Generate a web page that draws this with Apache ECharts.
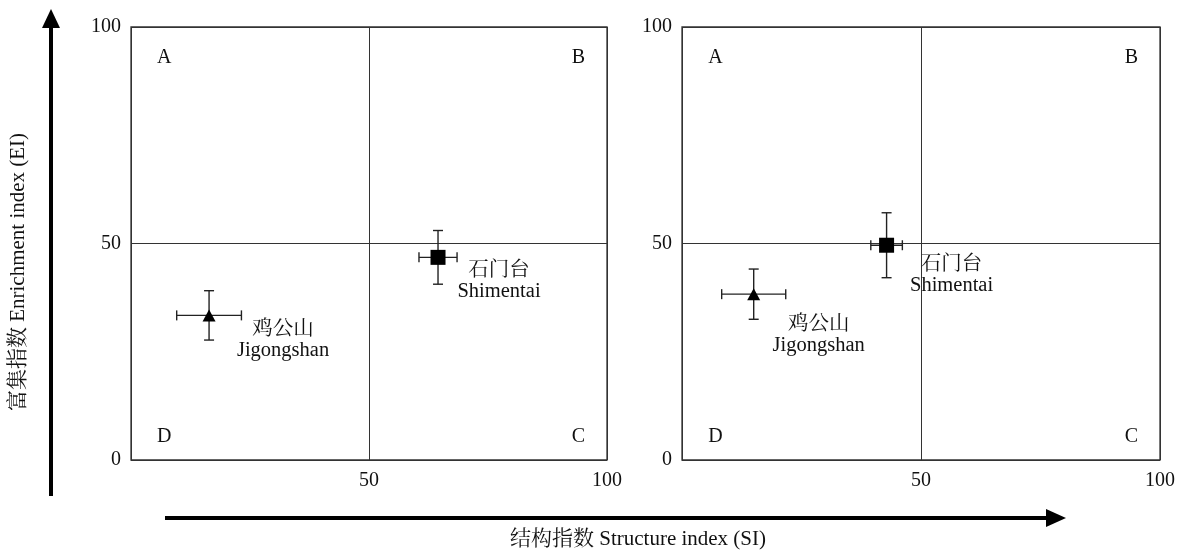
<!DOCTYPE html>
<html lang="zh" style="height: 100%">
<head>
  <meta charset="utf-8">
</head>
<body style="height: 100%; margin: 0; background: #fff">
  <div id="container" style="width: 1187px; height: 551px"></div>

  <script type="text/javascript" src="https://cdn.jsdelivr.net/npm/echarts@6/dist/echarts.min.js"></script>

  <script type="text/javascript">
    // 样地
    var siteCn = ['鸡公山', '石门台'];
    var siteEn = ['Jigongshan', 'Shimentai'];
    var siteSymbol = ['triangle', 'rect'];

    // 左图: 结构指数 SI / 富集指数 EI (均值 ± 误差)
    var leftSI = [16.4, 64.5];
    var leftSIErr = [6.8, 4.0];
    var leftEI = [33.4, 46.8];
    var leftEIErr = [5.7, 6.2];

    // 右图
    var rightSI = [15.0, 42.8];
    var rightSIErr = [6.7, 3.3];
    var rightEI = [38.3, 49.6];
    var rightEIErr = [5.8, 7.5];

    // 象限
    var quadLetters = ['A', 'B', 'C', 'D'];
    var quadSI = [7, 94, 94, 7];
    var quadEI = [93, 93, 5.3, 5.3];

    var xTicks = [50, 100];
    var yTicks = [0, 50, 100];

    var font = "'Liberation Serif', 'Times New Roman', 'Noto Serif CJK SC', 'Noto Sans CJK SC', serif";
    var ink = '#111';
    var lineCol = '#333';

    // 标签偏移 (像素)
    var labelOffsetLeft = [[74, 25], [61, 24]];
    var labelOffsetRight = [[65, 41], [65, 30]];

    var dom = document.getElementById('container');
    var myChart = echarts.init(dom, null, { renderer: 'canvas' });

    function axisPair(idx) {
      var x = {
        type: 'value', gridIndex: idx, min: 0, max: 100, interval: 50,
        axisLine: { show: false }, axisTick: { show: false },
        splitLine: { show: true, lineStyle: { color: lineCol, width: 1 } },
        axisLabel: {
          margin: 11, fontSize: 20, fontFamily: font, color: ink,
          formatter: function (v) { return xTicks.indexOf(v) >= 0 ? String(v) : ''; }
        }
      };
      var y = {
        type: 'value', gridIndex: idx, min: 0, max: 100, interval: 50,
        axisLine: { show: false }, axisTick: { show: false },
        splitLine: { show: true, lineStyle: { color: lineCol, width: 1 } },
        axisLabel: {
          margin: 10, fontSize: 20, fontFamily: font, color: ink,
          formatter: function (v) { return yTicks.indexOf(v) >= 0 ? String(v) : ''; }
        }
      };
      return [x, y];
    }

    var ax0 = axisPair(0), ax1 = axisPair(1);

    function errData(si, siE, ei, eiE) {
      return si.map(function (v, i) { return [v, ei[i], siE[i], eiE[i]]; });
    }

    function renderErr(params, api) {
      var x = api.value(0), y = api.value(1), ex = api.value(2), ey = api.value(3);
      var l = api.coord([x - ex, y]), r = api.coord([x + ex, y]);
      var t = api.coord([x, y + ey]), b = api.coord([x, y - ey]);
      var c = 5;
      var st = { stroke: '#222', lineWidth: 1.4 };
      function ln(x1, y1, x2, y2) {
        return { type: 'line', shape: { x1: x1, y1: y1, x2: x2, y2: y2 }, style: st };
      }
      return {
        type: 'group',
        children: [
          ln(l[0], l[1], r[0], r[1]),
          ln(t[0], t[1], b[0], b[1]),
          ln(l[0], l[1] - c, l[0], l[1] + c),
          ln(r[0], r[1] - c, r[0], r[1] + c),
          ln(t[0] - c, t[1], t[0] + c, t[1]),
          ln(b[0] - c, b[1], b[0] + c, b[1])
        ]
      };
    }

    function pointData(si, ei, offs) {
      return si.map(function (v, i) {
        return {
          value: [v, ei[i]],
          name: siteCn[i] + '\n' + siteEn[i],
          symbol: siteSymbol[i],
          symbolSize: siteSymbol[i] === 'rect' ? 15 : [13, 12],
          label: { offset: offs[i] }
        };
      });
    }

    function quadData() {
      return quadLetters.map(function (q, i) { return { value: [quadSI[i], quadEI[i]], name: q }; });
    }

    var series = [];
    [0, 1].forEach(function (g) {
      var src = g === 0
        ? [leftSI, leftSIErr, leftEI, leftEIErr, labelOffsetLeft]
        : [rightSI, rightSIErr, rightEI, rightEIErr, labelOffsetRight];
      series.push({
        type: 'custom', xAxisIndex: g, yAxisIndex: g,
        renderItem: renderErr, encode: { x: 0, y: 1 },
        data: errData(src[0], src[1], src[2], src[3]), z: 3
      });
      series.push({
        type: 'scatter', xAxisIndex: g, yAxisIndex: g,
        itemStyle: { color: '#000', opacity: 1 },
        label: {
          show: true, position: 'inside', formatter: '{b}', opacity: 1,
          fontSize: 20.5, lineHeight: 21, fontFamily: font, color: ink
        },
        data: pointData(src[0], src[2], src[4]), z: 4
      });
      series.push({
        type: 'scatter', xAxisIndex: g, yAxisIndex: g, symbolSize: 0,
        itemStyle: { opacity: 1 },
        label: {
          show: true, position: 'inside', formatter: '{b}', opacity: 1,
          fontSize: 20, fontFamily: font, color: ink
        },
        data: quadData(), z: 4
      });
    });

    var option = {
      backgroundColor: '#fff',
      animation: false,
      grid: [
        { left: 131, top: 27, width: 476, height: 433, show: true, borderColor: lineCol, borderWidth: 1.3 },
        { left: 682, top: 27, width: 478, height: 433, show: true, borderColor: lineCol, borderWidth: 1.3 }
      ],
      xAxis: [ax0[0], ax1[0]],
      yAxis: [ax0[1], ax1[1]],
      series: series,
      graphic: [
        { type: 'line', shape: { x1: 51, y1: 496, x2: 51, y2: 24 }, style: { stroke: '#000', lineWidth: 4 } },
        { type: 'polygon', shape: { points: [[51, 9], [42, 28], [60, 28]] }, style: { fill: '#000' } },
        { type: 'line', shape: { x1: 165, y1: 518, x2: 1050, y2: 518 }, style: { stroke: '#000', lineWidth: 4 } },
        { type: 'polygon', shape: { points: [[1066, 518], [1046, 509], [1046, 527]] }, style: { fill: '#000' } },
        {
          type: 'text', x: 18, y: 272, rotation: Math.PI / 2,
          style: {
            text: '富集指数 Enrichment index (EI)', font: '21px ' + font, fill: ink,
            textAlign: 'center', textVerticalAlign: 'middle'
          }
        },
        {
          type: 'text', x: 638, y: 539,
          style: {
            text: '结构指数 Structure index (SI)', font: '21px ' + font, fill: ink,
            textAlign: 'center', textVerticalAlign: 'middle'
          }
        }
      ]
    };

    myChart.setOption(option);

    window.addEventListener('resize', function () {
      myChart.resize();
    });
  </script>
</body>
</html>
